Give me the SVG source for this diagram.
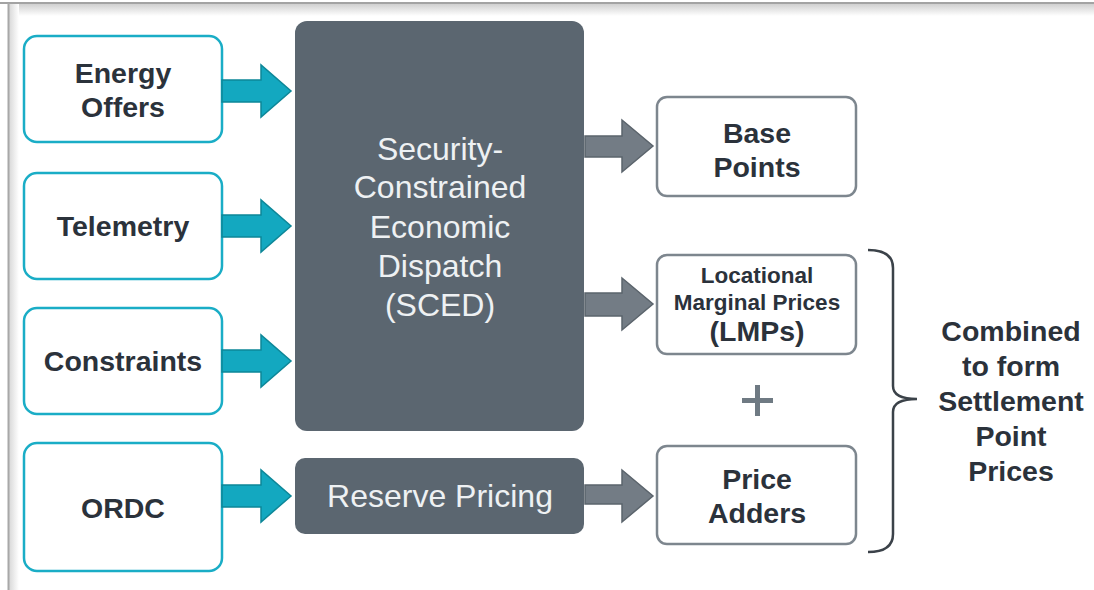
<svg xmlns="http://www.w3.org/2000/svg" width="1094" height="590" viewBox="0 0 1094 590">
<defs>
<linearGradient id="shadowTop" x1="0" y1="0" x2="0" y2="1">
<stop offset="0" stop-color="#d0d0d0"/>
<stop offset="1" stop-color="#ffffff"/>
</linearGradient>
<linearGradient id="shadowLeft" x1="0" y1="0" x2="1" y2="0">
<stop offset="0" stop-color="#d8d8d8"/>
<stop offset="1" stop-color="#ffffff"/>
</linearGradient>
</defs>
<style>
.inbox{fill:#ffffff;stroke:#1aadc6;stroke-width:2.5}
.outbox{fill:#ffffff;stroke:#7d868e;stroke-width:2.5}
.dark{fill:#5b6670}
.lbl{font-weight:bold;font-size:28.5px;fill:#2b323b;text-anchor:middle}
.sm{font-size:22.5px}
.wt{font-size:32px;fill:#eef1f3;text-anchor:middle}
.teal{fill:#13a8c0;stroke:#0d8798;stroke-width:1.5;stroke-linejoin:miter}
.grey{fill:#737c85;stroke:#5b646c;stroke-width:1.5;stroke-linejoin:miter}
</style>
<rect width="1094" height="590" fill="#ffffff"/>
<rect x="8" y="4" width="1086" height="12" fill="url(#shadowTop)"/>
<rect x="9" y="4" width="10" height="586" fill="url(#shadowLeft)"/>
<line x1="0" y1="3" x2="1094" y2="3" stroke="#a3a3a3" stroke-width="2"/>
<line x1="8.5" y1="3" x2="8.5" y2="590" stroke="#a8a8a8" stroke-width="2"/>

<g font-family="Liberation Sans, Arial, sans-serif">
<g id="energy-offers">
<rect class="inbox" x="24" y="36" width="198" height="106" rx="13"/>
<text class="lbl" x="123" y="83">Energy</text>
<text class="lbl" x="123" y="117">Offers</text>
</g>
<g id="telemetry">
<rect class="inbox" x="24" y="173" width="198" height="106" rx="13"/>
<text class="lbl" x="123" y="236">Telemetry</text>
</g>
<g id="constraints">
<rect class="inbox" x="24" y="308" width="198" height="106" rx="13"/>
<text class="lbl" x="123" y="371">Constraints</text>
</g>
<g id="ordc">
<rect class="inbox" x="24" y="443" width="198" height="128" rx="13"/>
<text class="lbl" x="123" y="518">ORDC</text>
</g>

<g id="sced">
<rect class="dark" x="295" y="21" width="289" height="410" rx="12"/>
<text class="wt" x="440" y="160">Security-</text>
<text class="wt" x="440" y="198">Constrained</text>
<text class="wt" x="440" y="238">Economic</text>
<text class="wt" x="440" y="277">Dispatch</text>
<text class="wt" x="440" y="316">(SCED)</text>
</g>
<g id="reserve-pricing">
<rect class="dark" x="295" y="458" width="289" height="76" rx="10"/>
<text class="wt" x="440" y="507">Reserve Pricing</text>
</g>

<g id="base-points">
<rect class="outbox" x="657" y="97" width="199" height="99" rx="10"/>
<text class="lbl" x="757" y="143">Base</text>
<text class="lbl" x="757" y="177">Points</text>
</g>
<g id="lmps">
<rect class="outbox" x="657" y="255" width="199" height="99" rx="10"/>
<text class="lbl sm" x="757" y="283">Locational</text>
<text class="lbl sm" x="757" y="310">Marginal Prices</text>
<text class="lbl" x="757" y="341">(LMPs)</text>
</g>
<g id="price-adders">
<rect class="outbox" x="657" y="446" width="199" height="98" rx="10"/>
<text class="lbl" x="757" y="489">Price</text>
<text class="lbl" x="757" y="523">Adders</text>
</g>

<g id="plus">
<rect x="742" y="398" width="31" height="5" fill="#6f7a83"/>
<rect x="755" y="385" width="5" height="31" fill="#6f7a83"/>
</g>

<g id="settlement">
<path d="M868,250 Q893,250 893,268 L893,386 Q893,399 917,399 Q893,399 893,412 L893,534 Q893,552 868,552" fill="none" stroke="#3b4249" stroke-width="2.5"/>
<text class="lbl" x="1011" y="341">Combined</text>
<text class="lbl" x="1011" y="376">to form</text>
<text class="lbl" x="1011" y="411">Settlement</text>
<text class="lbl" x="1011" y="446">Point</text>
<text class="lbl" x="1011" y="481">Prices</text>
</g>
</g>

<g id="connectors">
<path class="teal" d="M222,80 L261,80 L261,65 L291,91 L261,117 L261,102 L222,102 Z"/>
<path class="teal" d="M222,215 L261,215 L261,200 L291,226 L261,252 L261,237 L222,237 Z"/>
<path class="teal" d="M222,350 L261,350 L261,335 L291,361 L261,387 L261,372 L222,372 Z"/>
<path class="teal" d="M222,485 L261,485 L261,470 L291,496 L261,522 L261,507 L222,507 Z"/>
<path class="grey" d="M585,136 L622,136 L622,120 L653,146 L622,172 L622,157 L585,157 Z"/>
<path class="grey" d="M585,293 L622,293 L622,278 L653,304 L622,330 L622,316 L585,316 Z"/>
<path class="grey" d="M585,485 L622,485 L622,470 L653,496 L622,522 L622,504 L585,504 Z"/>
</g>
</svg>
